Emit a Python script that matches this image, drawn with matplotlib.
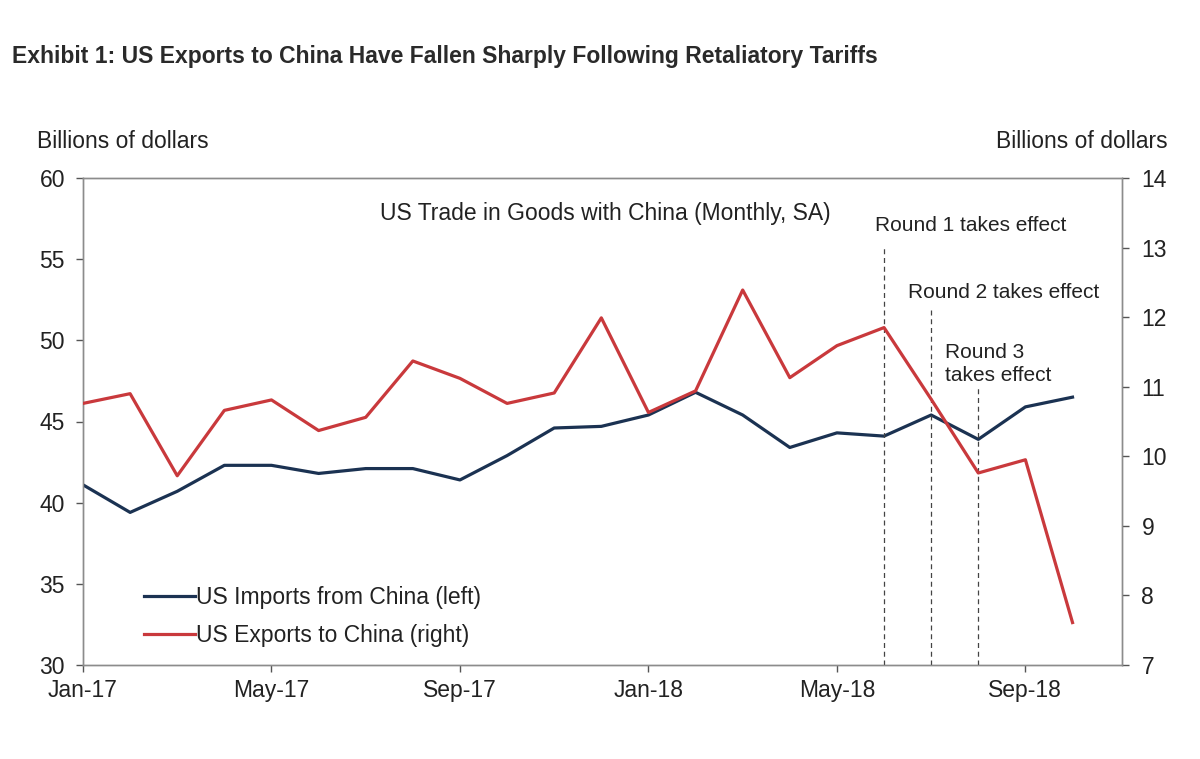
import matplotlib
matplotlib.use("Agg")
import matplotlib.pyplot as plt
import numpy as np

# monthly data, Jan-17 .. Oct-18
months = ["Jan-17", "Feb-17", "Mar-17", "Apr-17", "May-17", "Jun-17", "Jul-17", "Aug-17",
          "Sep-17", "Oct-17", "Nov-17", "Dec-17", "Jan-18", "Feb-18", "Mar-18", "Apr-18",
          "May-18", "Jun-18", "Jul-18", "Aug-18", "Sep-18", "Oct-18"]
imports_left = [41.1, 39.4, 40.7, 42.3, 42.3, 41.8, 42.1, 42.1, 41.4, 42.9, 44.6, 44.7,
                45.4, 46.8, 45.4, 43.4, 44.3, 44.1, 45.4, 43.9, 45.9, 46.5]
exports_right = [10.76, 10.90, 9.72, 10.66, 10.81, 10.37, 10.56, 11.37, 11.12, 10.76, 10.91, 11.99,
                 10.63, 10.94, 12.39, 11.13, 11.59, 11.85, 10.82, 9.76, 9.95, 7.61]
tick_labels = ["Jan-17", "May-17", "Sep-17", "Jan-18", "May-18", "Sep-18"]
tariff_rounds = ["Jun-18", "Jul-18", "Aug-18"]

NAVY = "#1b3252"
RED = "#c9393c"
GREY = "#8c8c8c"
TXT = "#222222"
NARROW = ["Liberation Sans Narrow", "Liberation Sans", "DejaVu Sans"]

plt.rcParams["font.family"] = ["Liberation Sans", "DejaVu Sans"]

fig = plt.figure(figsize=(12, 7.59), dpi=100)
ax = fig.add_axes([83 / 1200, 1 - 665 / 759, (1122 - 83) / 1200, (665 - 178) / 759])
ax2 = ax.twinx()

x = np.arange(len(months))
l1, = ax.plot(x, imports_left, color=NAVY, lw=2.3, label="US Imports from China (left)", zorder=3)
l2, = ax2.plot(x, exports_right, color=RED, lw=2.3, label="US Exports to China (right)", zorder=3)

ax.set_xlim(0, 22.05)
ax.set_ylim(30, 60)
ax2.set_ylim(7, 14)
ax.set_yticks(np.arange(30, 61, 5))
ax2.set_yticks(np.arange(7, 15, 1))
ax.set_xticks([months.index(m) for m in tick_labels])
ax.set_xticklabels(tick_labels)

for a in (ax, ax2):
    for s in a.spines.values():
        s.set_color(GREY)
        s.set_linewidth(1.0)
    a.tick_params(colors="#555555", labelcolor=TXT, labelsize=16.5, length=5, width=1.0)
ax.tick_params(axis="y", pad=8)
ax2.tick_params(axis="y", pad=9)
ax.tick_params(axis="x", pad=5)

# tariff round markers
round_text = ["Round 1 takes effect", "Round 2 takes effect", "Round 3\ntakes effect"]
line_tops = [13.04, 12.1, 10.98]
text_left = [16.81, 17.51, 18.3]
text_mid = [13.32, 12.36, 11.33]
for m, top, lab, tx, ty in zip(tariff_rounds, line_tops, round_text, text_left, text_mid):
    xi = months.index(m)
    ax2.plot([xi, xi], [7, top], color="#444444", lw=0.9, ls=(0, (4, 3)), zorder=2)
    ax2.text(tx, ty, lab, ha="left", va="center", fontsize=15, color=TXT,
             family=NARROW, linespacing=1.27)

ax.text(0.5025, 0.95, "US Trade in Goods with China (Monthly, SA)", transform=ax.transAxes,
        ha="center", va="top", fontsize=16.5, color=TXT)

leg = ax.legend(handles=[l1, l2], loc="lower left", bbox_to_anchor=(0.039, -0.006),
                frameon=False, fontsize=16.5, handlelength=2.2, handletextpad=0.05,
                labelspacing=0.65)
for t in leg.get_texts():
    t.set_color(TXT)

fig.text(123 / 1200, 1 - 142 / 759, "Billions of dollars", ha="center", va="center",
         fontsize=16.5, color=TXT)
fig.text(1082 / 1200, 1 - 142 / 759, "Billions of dollars", ha="center", va="center",
         fontsize=16.5, color=TXT)

fig.text(12 / 1200, 1 - 56 / 759,
         "Exhibit 1: US Exports to China Have Fallen Sharply Following Retaliatory Tariffs",
         ha="left", va="center", fontsize=16.5, fontweight="bold", color="#2a2a2a",
         family=NARROW)

fig.savefig("out.png", dpi=100, facecolor="white")
